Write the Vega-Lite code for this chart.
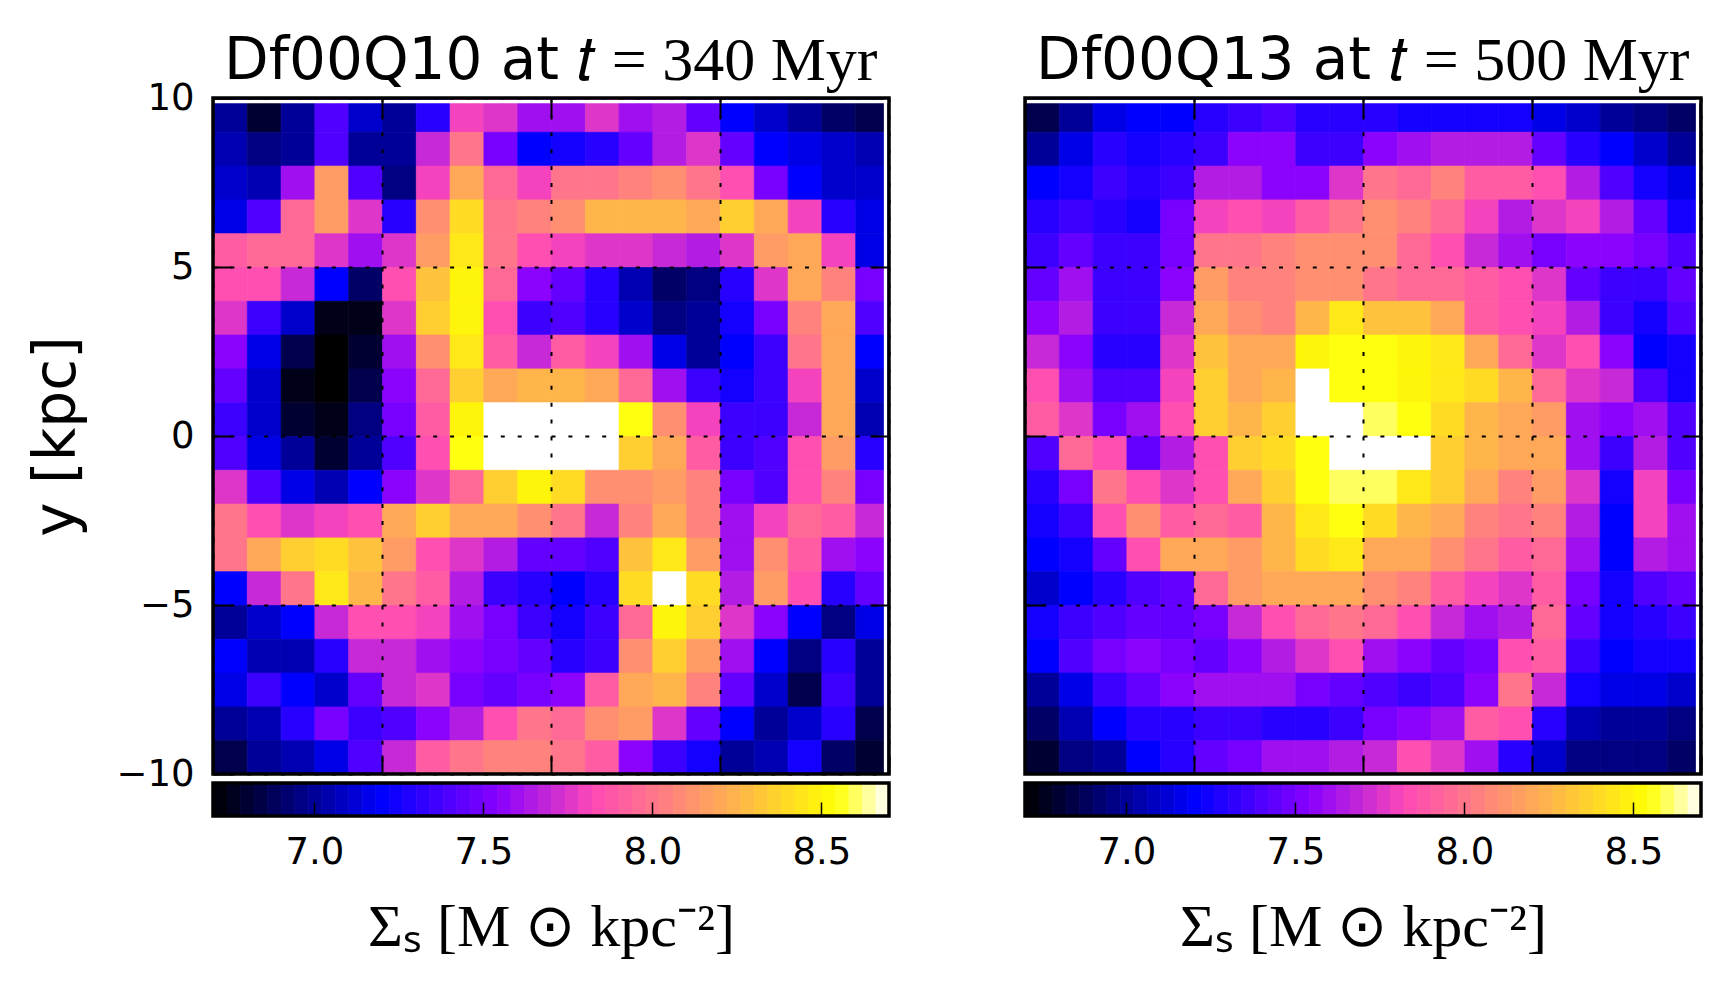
{"$schema":"https://vega.github.io/schema/vega-lite/v6.json","background":"white","padding":{"left":28,"top":29,"right":20,"bottom":10},
"config":{"view":{"stroke":null},"font":"DejaVu Sans","axis":{"grid":false,"title":null,"labels":false,"domain":false,"tickColor":"black","tickWidth":2,"tickSize":-19},"title":{"font":"DejaVu Sans","fontSize":58,"fontWeight":"normal"}},
"datasets":{
"a":[{"x":-10,"y":9,"v":7},{"x":-9,"y":9,"v":6.8},{"x":-8,"y":9,"v":7},{"x":-7,"y":9,"v":7.4},{"x":-6,"y":9,"v":7.1},{"x":-5,"y":9,"v":7},{"x":-4,"y":9,"v":7.3},{"x":-3,"y":9,"v":7.8},{"x":-2,"y":9,"v":7.75},{"x":-1,"y":9,"v":7.6},{"x":0,"y":9,"v":7.6},{"x":1,"y":9,"v":7.75},{"x":2,"y":9,"v":7.6},{"x":3,"y":9,"v":7.65},{"x":4,"y":9,"v":7.45},{"x":5,"y":9,"v":7.2},{"x":6,"y":9,"v":7.1},{"x":7,"y":9,"v":7},{"x":8,"y":9,"v":6.9},{"x":9,"y":9,"v":6.85},
{"x":-10,"y":8,"v":7.05},{"x":-9,"y":8,"v":6.95},{"x":-8,"y":8,"v":7},{"x":-7,"y":8,"v":7.4},{"x":-6,"y":8,"v":7},{"x":-5,"y":8,"v":7},{"x":-4,"y":8,"v":7.7},{"x":-3,"y":8,"v":8},{"x":-2,"y":8,"v":7.5},{"x":-1,"y":8,"v":7.2},{"x":0,"y":8,"v":7.25},{"x":1,"y":8,"v":7.3},{"x":2,"y":8,"v":7.45},{"x":3,"y":8,"v":7.65},{"x":4,"y":8,"v":7.75},{"x":5,"y":8,"v":7.45},{"x":6,"y":8,"v":7.2},{"x":7,"y":8,"v":7.15},{"x":8,"y":8,"v":7.1},{"x":9,"y":8,"v":7.05},
{"x":-10,"y":7,"v":7.1},{"x":-9,"y":7,"v":7.05},{"x":-8,"y":7,"v":7.6},{"x":-7,"y":7,"v":8.15},{"x":-6,"y":7,"v":7.4},{"x":-5,"y":7,"v":6.95},{"x":-4,"y":7,"v":7.8},{"x":-3,"y":7,"v":8.2},{"x":-2,"y":7,"v":7.95},{"x":-1,"y":7,"v":7.8},{"x":0,"y":7,"v":8},{"x":1,"y":7,"v":8},{"x":2,"y":7,"v":8.05},{"x":3,"y":7,"v":8.1},{"x":4,"y":7,"v":8},{"x":5,"y":7,"v":7.85},{"x":6,"y":7,"v":7.5},{"x":7,"y":7,"v":7.2},{"x":8,"y":7,"v":7.1},{"x":9,"y":7,"v":7.1},
{"x":-10,"y":6,"v":7.15},{"x":-9,"y":6,"v":7.4},{"x":-8,"y":6,"v":7.95},{"x":-7,"y":6,"v":8.15},{"x":-6,"y":6,"v":7.75},{"x":-5,"y":6,"v":7.3},{"x":-4,"y":6,"v":8.1},{"x":-3,"y":6,"v":8.4},{"x":-2,"y":6,"v":8},{"x":-1,"y":6,"v":8.05},{"x":0,"y":6,"v":8.1},{"x":1,"y":6,"v":8.25},{"x":2,"y":6,"v":8.25},{"x":3,"y":6,"v":8.25},{"x":4,"y":6,"v":8.2},{"x":5,"y":6,"v":8.35},{"x":6,"y":6,"v":8.2},{"x":7,"y":6,"v":7.8},{"x":8,"y":6,"v":7.3},{"x":9,"y":6,"v":7.15},
{"x":-10,"y":5,"v":7.9},{"x":-9,"y":5,"v":7.95},{"x":-8,"y":5,"v":7.95},{"x":-7,"y":5,"v":7.75},{"x":-6,"y":5,"v":7.6},{"x":-5,"y":5,"v":7.75},{"x":-4,"y":5,"v":8.15},{"x":-3,"y":5,"v":8.45},{"x":-2,"y":5,"v":8},{"x":-1,"y":5,"v":7.85},{"x":0,"y":5,"v":7.8},{"x":1,"y":5,"v":7.75},{"x":2,"y":5,"v":7.75},{"x":3,"y":5,"v":7.7},{"x":4,"y":5,"v":7.65},{"x":5,"y":5,"v":7.75},{"x":6,"y":5,"v":8.15},{"x":7,"y":5,"v":8.2},{"x":8,"y":5,"v":7.8},{"x":9,"y":5,"v":7.15},
{"x":-10,"y":4,"v":7.85},{"x":-9,"y":4,"v":7.85},{"x":-8,"y":4,"v":7.7},{"x":-7,"y":4,"v":7.2},{"x":-6,"y":4,"v":6.9},{"x":-5,"y":4,"v":7.85},{"x":-4,"y":4,"v":8.3},{"x":-3,"y":4,"v":8.5},{"x":-2,"y":4,"v":7.95},{"x":-1,"y":4,"v":7.55},{"x":0,"y":4,"v":7.45},{"x":1,"y":4,"v":7.3},{"x":2,"y":4,"v":7.05},{"x":3,"y":4,"v":6.9},{"x":4,"y":4,"v":6.95},{"x":5,"y":4,"v":7.3},{"x":6,"y":4,"v":7.75},{"x":7,"y":4,"v":8.2},{"x":8,"y":4,"v":8.05},{"x":9,"y":4,"v":7.5},
{"x":-10,"y":3,"v":7.75},{"x":-9,"y":3,"v":7.35},{"x":-8,"y":3,"v":7.1},{"x":-7,"y":3,"v":6.75},{"x":-6,"y":3,"v":6.75},{"x":-5,"y":3,"v":7.75},{"x":-4,"y":3,"v":8.35},{"x":-3,"y":3,"v":8.5},{"x":-2,"y":3,"v":7.85},{"x":-1,"y":3,"v":7.35},{"x":0,"y":3,"v":7.4},{"x":1,"y":3,"v":7.3},{"x":2,"y":3,"v":7.1},{"x":3,"y":3,"v":6.95},{"x":4,"y":3,"v":7},{"x":5,"y":3,"v":7.25},{"x":6,"y":3,"v":7.5},{"x":7,"y":3,"v":8.05},{"x":8,"y":3,"v":8.2},{"x":9,"y":3,"v":7.4},
{"x":-10,"y":2,"v":7.55},{"x":-9,"y":2,"v":7.15},{"x":-8,"y":2,"v":6.85},{"x":-7,"y":2,"v":6.7},{"x":-6,"y":2,"v":6.8},{"x":-5,"y":2,"v":7.6},{"x":-4,"y":2,"v":8.1},{"x":-3,"y":2,"v":8.45},{"x":-2,"y":2,"v":7.9},{"x":-1,"y":2,"v":7.7},{"x":0,"y":2,"v":7.9},{"x":1,"y":2,"v":7.8},{"x":2,"y":2,"v":7.6},{"x":3,"y":2,"v":7.15},{"x":4,"y":2,"v":7},{"x":5,"y":2,"v":7.2},{"x":6,"y":2,"v":7.35},{"x":7,"y":2,"v":8},{"x":8,"y":2,"v":8.2},{"x":9,"y":2,"v":7.2},
{"x":-10,"y":1,"v":7.45},{"x":-9,"y":1,"v":7.1},{"x":-8,"y":1,"v":6.75},{"x":-7,"y":1,"v":6.7},{"x":-6,"y":1,"v":6.85},{"x":-5,"y":1,"v":7.55},{"x":-4,"y":1,"v":7.95},{"x":-3,"y":1,"v":8.35},{"x":-2,"y":1,"v":8.2},{"x":-1,"y":1,"v":8.25},{"x":0,"y":1,"v":8.25},{"x":1,"y":1,"v":8.2},{"x":2,"y":1,"v":7.95},{"x":3,"y":1,"v":7.6},{"x":4,"y":1,"v":7.35},{"x":5,"y":1,"v":7.25},{"x":6,"y":1,"v":7.35},{"x":7,"y":1,"v":7.8},{"x":8,"y":1,"v":8.2},{"x":9,"y":1,"v":7.1},
{"x":-10,"y":0,"v":7.35},{"x":-9,"y":0,"v":7.1},{"x":-8,"y":0,"v":6.8},{"x":-7,"y":0,"v":6.75},{"x":-6,"y":0,"v":6.95},{"x":-5,"y":0,"v":7.5},{"x":-4,"y":0,"v":7.9},{"x":-3,"y":0,"v":8.5},{"x":-2,"y":0,"v":8.7},{"x":-1,"y":0,"v":8.7},{"x":0,"y":0,"v":8.7},{"x":1,"y":0,"v":8.7},{"x":2,"y":0,"v":8.55},{"x":3,"y":0,"v":8.1},{"x":4,"y":0,"v":7.8},{"x":5,"y":0,"v":7.35},{"x":6,"y":0,"v":7.35},{"x":7,"y":0,"v":7.7},{"x":8,"y":0,"v":8.2},{"x":9,"y":0,"v":7.05},
{"x":-10,"y":-1,"v":7.4},{"x":-9,"y":-1,"v":7.15},{"x":-8,"y":-1,"v":7},{"x":-7,"y":-1,"v":6.8},{"x":-6,"y":-1,"v":7},{"x":-5,"y":-1,"v":7.4},{"x":-4,"y":-1,"v":7.85},{"x":-3,"y":-1,"v":8.55},{"x":-2,"y":-1,"v":8.7},{"x":-1,"y":-1,"v":8.7},{"x":0,"y":-1,"v":8.7},{"x":1,"y":-1,"v":8.7},{"x":2,"y":-1,"v":8.35},{"x":3,"y":-1,"v":8.2},{"x":4,"y":-1,"v":7.9},{"x":5,"y":-1,"v":7.35},{"x":6,"y":-1,"v":7.4},{"x":7,"y":-1,"v":7.85},{"x":8,"y":-1,"v":8.15},{"x":9,"y":-1,"v":7.3},
{"x":-10,"y":-2,"v":7.75},{"x":-9,"y":-2,"v":7.4},{"x":-8,"y":-2,"v":7.15},{"x":-7,"y":-2,"v":7.05},{"x":-6,"y":-2,"v":7.2},{"x":-5,"y":-2,"v":7.55},{"x":-4,"y":-2,"v":7.75},{"x":-3,"y":-2,"v":7.95},{"x":-2,"y":-2,"v":8.35},{"x":-1,"y":-2,"v":8.5},{"x":0,"y":-2,"v":8.4},{"x":1,"y":-2,"v":8.1},{"x":2,"y":-2,"v":8.1},{"x":3,"y":-2,"v":8.15},{"x":4,"y":-2,"v":8.05},{"x":5,"y":-2,"v":7.5},{"x":6,"y":-2,"v":7.4},{"x":7,"y":-2,"v":7.85},{"x":8,"y":-2,"v":8.05},{"x":9,"y":-2,"v":7.5},
{"x":-10,"y":-3,"v":8},{"x":-9,"y":-3,"v":7.85},{"x":-8,"y":-3,"v":7.75},{"x":-7,"y":-3,"v":7.8},{"x":-6,"y":-3,"v":7.85},{"x":-5,"y":-3,"v":8.2},{"x":-4,"y":-3,"v":8.35},{"x":-3,"y":-3,"v":8.2},{"x":-2,"y":-3,"v":8.2},{"x":-1,"y":-3,"v":8.1},{"x":0,"y":-3,"v":8},{"x":1,"y":-3,"v":7.7},{"x":2,"y":-3,"v":8.05},{"x":3,"y":-3,"v":8.2},{"x":4,"y":-3,"v":8.05},{"x":5,"y":-3,"v":7.6},{"x":6,"y":-3,"v":7.8},{"x":7,"y":-3,"v":7.95},{"x":8,"y":-3,"v":7.9},{"x":9,"y":-3,"v":7.7},
{"x":-10,"y":-4,"v":8},{"x":-9,"y":-4,"v":8.2},{"x":-8,"y":-4,"v":8.35},{"x":-7,"y":-4,"v":8.4},{"x":-6,"y":-4,"v":8.3},{"x":-5,"y":-4,"v":8.15},{"x":-4,"y":-4,"v":7.85},{"x":-3,"y":-4,"v":7.75},{"x":-2,"y":-4,"v":7.65},{"x":-1,"y":-4,"v":7.45},{"x":0,"y":-4,"v":7.45},{"x":1,"y":-4,"v":7.4},{"x":2,"y":-4,"v":8.3},{"x":3,"y":-4,"v":8.45},{"x":4,"y":-4,"v":8.15},{"x":5,"y":-4,"v":7.6},{"x":6,"y":-4,"v":8.1},{"x":7,"y":-4,"v":7.9},{"x":8,"y":-4,"v":7.6},{"x":9,"y":-4,"v":7.55},
{"x":-10,"y":-5,"v":7.2},{"x":-9,"y":-5,"v":7.7},{"x":-8,"y":-5,"v":8},{"x":-7,"y":-5,"v":8.45},{"x":-6,"y":-5,"v":8.25},{"x":-5,"y":-5,"v":8},{"x":-4,"y":-5,"v":7.9},{"x":-3,"y":-5,"v":7.65},{"x":-2,"y":-5,"v":7.35},{"x":-1,"y":-5,"v":7.3},{"x":0,"y":-5,"v":7.2},{"x":1,"y":-5,"v":7.3},{"x":2,"y":-5,"v":8.4},{"x":3,"y":-5,"v":8.7},{"x":4,"y":-5,"v":8.4},{"x":5,"y":-5,"v":7.65},{"x":6,"y":-5,"v":8.15},{"x":7,"y":-5,"v":7.85},{"x":8,"y":-5,"v":7.3},{"x":9,"y":-5,"v":7.45},
{"x":-10,"y":-6,"v":7},{"x":-9,"y":-6,"v":7.1},{"x":-8,"y":-6,"v":7.2},{"x":-7,"y":-6,"v":7.7},{"x":-6,"y":-6,"v":7.85},{"x":-5,"y":-6,"v":7.85},{"x":-4,"y":-6,"v":7.8},{"x":-3,"y":-6,"v":7.6},{"x":-2,"y":-6,"v":7.5},{"x":-1,"y":-6,"v":7.35},{"x":0,"y":-6,"v":7.25},{"x":1,"y":-6,"v":7.35},{"x":2,"y":-6,"v":7.95},{"x":3,"y":-6,"v":8.5},{"x":4,"y":-6,"v":8.35},{"x":5,"y":-6,"v":7.75},{"x":6,"y":-6,"v":7.55},{"x":7,"y":-6,"v":7.2},{"x":8,"y":-6,"v":6.95},{"x":9,"y":-6,"v":7.15},
{"x":-10,"y":-7,"v":7.2},{"x":-9,"y":-7,"v":7.05},{"x":-8,"y":-7,"v":7.05},{"x":-7,"y":-7,"v":7.3},{"x":-6,"y":-7,"v":7.7},{"x":-5,"y":-7,"v":7.7},{"x":-4,"y":-7,"v":7.6},{"x":-3,"y":-7,"v":7.55},{"x":-2,"y":-7,"v":7.5},{"x":-1,"y":-7,"v":7.45},{"x":0,"y":-7,"v":7.3},{"x":1,"y":-7,"v":7.35},{"x":2,"y":-7,"v":8.1},{"x":3,"y":-7,"v":8.35},{"x":4,"y":-7,"v":8.15},{"x":5,"y":-7,"v":7.6},{"x":6,"y":-7,"v":7.2},{"x":7,"y":-7,"v":6.95},{"x":8,"y":-7,"v":7.3},{"x":9,"y":-7,"v":7},
{"x":-10,"y":-8,"v":7.15},{"x":-9,"y":-8,"v":7.35},{"x":-8,"y":-8,"v":7.2},{"x":-7,"y":-8,"v":7.1},{"x":-6,"y":-8,"v":7.45},{"x":-5,"y":-8,"v":7.7},{"x":-4,"y":-8,"v":7.75},{"x":-3,"y":-8,"v":7.5},{"x":-2,"y":-8,"v":7.45},{"x":-1,"y":-8,"v":7.5},{"x":0,"y":-8,"v":7.55},{"x":1,"y":-8,"v":7.9},{"x":2,"y":-8,"v":8.2},{"x":3,"y":-8,"v":8.25},{"x":4,"y":-8,"v":8.05},{"x":5,"y":-8,"v":7.45},{"x":6,"y":-8,"v":7.1},{"x":7,"y":-8,"v":6.85},{"x":8,"y":-8,"v":7.35},{"x":9,"y":-8,"v":7},
{"x":-10,"y":-9,"v":7},{"x":-9,"y":-9,"v":7.05},{"x":-8,"y":-9,"v":7.3},{"x":-7,"y":-9,"v":7.5},{"x":-6,"y":-9,"v":7.35},{"x":-5,"y":-9,"v":7.4},{"x":-4,"y":-9,"v":7.55},{"x":-3,"y":-9,"v":7.65},{"x":-2,"y":-9,"v":7.85},{"x":-1,"y":-9,"v":8},{"x":0,"y":-9,"v":7.95},{"x":1,"y":-9,"v":8.1},{"x":2,"y":-9,"v":8.15},{"x":3,"y":-9,"v":7.75},{"x":4,"y":-9,"v":7.45},{"x":5,"y":-9,"v":7.2},{"x":6,"y":-9,"v":7},{"x":7,"y":-9,"v":7.1},{"x":8,"y":-9,"v":7.3},{"x":9,"y":-9,"v":6.85},
{"x":-10,"y":-10,"v":6.85},{"x":-9,"y":-10,"v":7},{"x":-8,"y":-10,"v":7.05},{"x":-7,"y":-10,"v":7.15},{"x":-6,"y":-10,"v":7.4},{"x":-5,"y":-10,"v":7.7},{"x":-4,"y":-10,"v":7.9},{"x":-3,"y":-10,"v":8},{"x":-2,"y":-10,"v":8.05},{"x":-1,"y":-10,"v":8.05},{"x":0,"y":-10,"v":8},{"x":1,"y":-10,"v":7.9},{"x":2,"y":-10,"v":7.55},{"x":3,"y":-10,"v":7.35},{"x":4,"y":-10,"v":7.25},{"x":5,"y":-10,"v":7},{"x":6,"y":-10,"v":7.05},{"x":7,"y":-10,"v":7.25},{"x":8,"y":-10,"v":6.9},{"x":9,"y":-10,"v":6.8}],
"b":[{"x":-10,"y":9,"v":6.85},{"x":-9,"y":9,"v":7},{"x":-8,"y":9,"v":7.15},{"x":-7,"y":9,"v":7.2},{"x":-6,"y":9,"v":7.2},{"x":-5,"y":9,"v":7.3},{"x":-4,"y":9,"v":7.35},{"x":-3,"y":9,"v":7.4},{"x":-2,"y":9,"v":7.3},{"x":-1,"y":9,"v":7.3},{"x":0,"y":9,"v":7.3},{"x":1,"y":9,"v":7.25},{"x":2,"y":9,"v":7.25},{"x":3,"y":9,"v":7.25},{"x":4,"y":9,"v":7.25},{"x":5,"y":9,"v":7.15},{"x":6,"y":9,"v":7.1},{"x":7,"y":9,"v":7},{"x":8,"y":9,"v":6.95},{"x":9,"y":9,"v":6.9},
{"x":-10,"y":8,"v":7},{"x":-9,"y":8,"v":7.15},{"x":-8,"y":8,"v":7.3},{"x":-7,"y":8,"v":7.25},{"x":-6,"y":8,"v":7.3},{"x":-5,"y":8,"v":7.35},{"x":-4,"y":8,"v":7.55},{"x":-3,"y":8,"v":7.55},{"x":-2,"y":8,"v":7.35},{"x":-1,"y":8,"v":7.35},{"x":0,"y":8,"v":7.55},{"x":1,"y":8,"v":7.6},{"x":2,"y":8,"v":7.65},{"x":3,"y":8,"v":7.65},{"x":4,"y":8,"v":7.65},{"x":5,"y":8,"v":7.45},{"x":6,"y":8,"v":7.3},{"x":7,"y":8,"v":7.2},{"x":8,"y":8,"v":7.1},{"x":9,"y":8,"v":7},
{"x":-10,"y":7,"v":7.2},{"x":-9,"y":7,"v":7.25},{"x":-8,"y":7,"v":7.35},{"x":-7,"y":7,"v":7.3},{"x":-6,"y":7,"v":7.35},{"x":-5,"y":7,"v":7.65},{"x":-4,"y":7,"v":7.65},{"x":-3,"y":7,"v":7.55},{"x":-2,"y":7,"v":7.55},{"x":-1,"y":7,"v":7.75},{"x":0,"y":7,"v":8},{"x":1,"y":7,"v":7.95},{"x":2,"y":7,"v":8.05},{"x":3,"y":7,"v":7.9},{"x":4,"y":7,"v":7.9},{"x":5,"y":7,"v":7.85},{"x":6,"y":7,"v":7.65},{"x":7,"y":7,"v":7.4},{"x":8,"y":7,"v":7.25},{"x":9,"y":7,"v":7.15},
{"x":-10,"y":6,"v":7.3},{"x":-9,"y":6,"v":7.35},{"x":-8,"y":6,"v":7.3},{"x":-7,"y":6,"v":7.25},{"x":-6,"y":6,"v":7.5},{"x":-5,"y":6,"v":7.8},{"x":-4,"y":6,"v":7.85},{"x":-3,"y":6,"v":7.8},{"x":-2,"y":6,"v":7.9},{"x":-1,"y":6,"v":8},{"x":0,"y":6,"v":8.1},{"x":1,"y":6,"v":8.05},{"x":2,"y":6,"v":7.95},{"x":3,"y":6,"v":7.8},{"x":4,"y":6,"v":7.65},{"x":5,"y":6,"v":7.75},{"x":6,"y":6,"v":7.8},{"x":7,"y":6,"v":7.65},{"x":8,"y":6,"v":7.45},{"x":9,"y":6,"v":7.25},
{"x":-10,"y":5,"v":7.35},{"x":-9,"y":5,"v":7.45},{"x":-8,"y":5,"v":7.35},{"x":-7,"y":5,"v":7.35},{"x":-6,"y":5,"v":7.5},{"x":-5,"y":5,"v":8},{"x":-4,"y":5,"v":8},{"x":-3,"y":5,"v":8.05},{"x":-2,"y":5,"v":8.1},{"x":-1,"y":5,"v":8.1},{"x":0,"y":5,"v":8.1},{"x":1,"y":5,"v":7.95},{"x":2,"y":5,"v":7.85},{"x":3,"y":5,"v":7.7},{"x":4,"y":5,"v":7.6},{"x":5,"y":5,"v":7.5},{"x":6,"y":5,"v":7.55},{"x":7,"y":5,"v":7.55},{"x":8,"y":5,"v":7.5},{"x":9,"y":5,"v":7.4},
{"x":-10,"y":4,"v":7.45},{"x":-9,"y":4,"v":7.6},{"x":-8,"y":4,"v":7.35},{"x":-7,"y":4,"v":7.35},{"x":-6,"y":4,"v":7.55},{"x":-5,"y":4,"v":8.15},{"x":-4,"y":4,"v":8.05},{"x":-3,"y":4,"v":8.05},{"x":-2,"y":4,"v":8.1},{"x":-1,"y":4,"v":8.1},{"x":0,"y":4,"v":8},{"x":1,"y":4,"v":7.95},{"x":2,"y":4,"v":7.95},{"x":3,"y":4,"v":7.9},{"x":4,"y":4,"v":7.85},{"x":5,"y":4,"v":7.75},{"x":6,"y":4,"v":7.45},{"x":7,"y":4,"v":7.35},{"x":8,"y":4,"v":7.35},{"x":9,"y":4,"v":7.45},
{"x":-10,"y":3,"v":7.55},{"x":-9,"y":3,"v":7.65},{"x":-8,"y":3,"v":7.35},{"x":-7,"y":3,"v":7.35},{"x":-6,"y":3,"v":7.7},{"x":-5,"y":3,"v":8.2},{"x":-4,"y":3,"v":8.1},{"x":-3,"y":3,"v":8.05},{"x":-2,"y":3,"v":8.25},{"x":-1,"y":3,"v":8.45},{"x":0,"y":3,"v":8.3},{"x":1,"y":3,"v":8.3},{"x":2,"y":3,"v":8.2},{"x":3,"y":3,"v":7.9},{"x":4,"y":3,"v":7.85},{"x":5,"y":3,"v":7.8},{"x":6,"y":3,"v":7.65},{"x":7,"y":3,"v":7.35},{"x":8,"y":3,"v":7.25},{"x":9,"y":3,"v":7.4},
{"x":-10,"y":2,"v":7.7},{"x":-9,"y":2,"v":7.55},{"x":-8,"y":2,"v":7.3},{"x":-7,"y":2,"v":7.3},{"x":-6,"y":2,"v":7.75},{"x":-5,"y":2,"v":8.3},{"x":-4,"y":2,"v":8.2},{"x":-3,"y":2,"v":8.2},{"x":-2,"y":2,"v":8.5},{"x":-1,"y":2,"v":8.55},{"x":0,"y":2,"v":8.55},{"x":1,"y":2,"v":8.5},{"x":2,"y":2,"v":8.45},{"x":3,"y":2,"v":8.2},{"x":4,"y":2,"v":7.95},{"x":5,"y":2,"v":7.75},{"x":6,"y":2,"v":7.85},{"x":7,"y":2,"v":7.55},{"x":8,"y":2,"v":7.2},{"x":9,"y":2,"v":7.25},
{"x":-10,"y":1,"v":7.85},{"x":-9,"y":1,"v":7.6},{"x":-8,"y":1,"v":7.4},{"x":-7,"y":1,"v":7.4},{"x":-6,"y":1,"v":7.8},{"x":-5,"y":1,"v":8.35},{"x":-4,"y":1,"v":8.2},{"x":-3,"y":1,"v":8.25},{"x":-2,"y":1,"v":8.7},{"x":-1,"y":1,"v":8.55},{"x":0,"y":1,"v":8.55},{"x":1,"y":1,"v":8.5},{"x":2,"y":1,"v":8.45},{"x":3,"y":1,"v":8.4},{"x":4,"y":1,"v":8.25},{"x":5,"y":1,"v":7.95},{"x":6,"y":1,"v":7.75},{"x":7,"y":1,"v":7.7},{"x":8,"y":1,"v":7.4},{"x":9,"y":1,"v":7.25},
{"x":-10,"y":0,"v":7.9},{"x":-9,"y":0,"v":7.75},{"x":-8,"y":0,"v":7.5},{"x":-7,"y":0,"v":7.6},{"x":-6,"y":0,"v":7.85},{"x":-5,"y":0,"v":8.35},{"x":-4,"y":0,"v":8.25},{"x":-3,"y":0,"v":8.35},{"x":-2,"y":0,"v":8.7},{"x":-1,"y":0,"v":8.7},{"x":0,"y":0,"v":8.6},{"x":1,"y":0,"v":8.55},{"x":2,"y":0,"v":8.4},{"x":3,"y":0,"v":8.25},{"x":4,"y":0,"v":8.2},{"x":5,"y":0,"v":8.15},{"x":6,"y":0,"v":7.6},{"x":7,"y":0,"v":7.55},{"x":8,"y":0,"v":7.6},{"x":9,"y":0,"v":7.4},
{"x":-10,"y":-1,"v":7.4},{"x":-9,"y":-1,"v":7.95},{"x":-8,"y":-1,"v":7.85},{"x":-7,"y":-1,"v":7.45},{"x":-6,"y":-1,"v":7.65},{"x":-5,"y":-1,"v":7.85},{"x":-4,"y":-1,"v":8.35},{"x":-3,"y":-1,"v":8.4},{"x":-2,"y":-1,"v":8.55},{"x":-1,"y":-1,"v":8.7},{"x":0,"y":-1,"v":8.7},{"x":1,"y":-1,"v":8.7},{"x":2,"y":-1,"v":8.35},{"x":3,"y":-1,"v":8.25},{"x":4,"y":-1,"v":8.2},{"x":5,"y":-1,"v":8.2},{"x":6,"y":-1,"v":7.6},{"x":7,"y":-1,"v":7.35},{"x":8,"y":-1,"v":7.65},{"x":9,"y":-1,"v":7.4},
{"x":-10,"y":-2,"v":7.3},{"x":-9,"y":-2,"v":7.5},{"x":-8,"y":-2,"v":8},{"x":-7,"y":-2,"v":7.85},{"x":-6,"y":-2,"v":7.75},{"x":-5,"y":-2,"v":7.85},{"x":-4,"y":-2,"v":8.2},{"x":-3,"y":-2,"v":8.35},{"x":-2,"y":-2,"v":8.55},{"x":-1,"y":-2,"v":8.6},{"x":0,"y":-2,"v":8.6},{"x":1,"y":-2,"v":8.45},{"x":2,"y":-2,"v":8.35},{"x":3,"y":-2,"v":8.2},{"x":4,"y":-2,"v":8.05},{"x":5,"y":-2,"v":8.15},{"x":6,"y":-2,"v":7.75},{"x":7,"y":-2,"v":7.25},{"x":8,"y":-2,"v":7.8},{"x":9,"y":-2,"v":7.5},
{"x":-10,"y":-3,"v":7.25},{"x":-9,"y":-3,"v":7.35},{"x":-8,"y":-3,"v":7.85},{"x":-7,"y":-3,"v":8.1},{"x":-6,"y":-3,"v":7.9},{"x":-5,"y":-3,"v":7.95},{"x":-4,"y":-3,"v":7.9},{"x":-3,"y":-3,"v":8.25},{"x":-2,"y":-3,"v":8.45},{"x":-1,"y":-3,"v":8.55},{"x":0,"y":-3,"v":8.4},{"x":1,"y":-3,"v":8.25},{"x":2,"y":-3,"v":8.2},{"x":3,"y":-3,"v":8.05},{"x":4,"y":-3,"v":8},{"x":5,"y":-3,"v":8.05},{"x":6,"y":-3,"v":7.65},{"x":7,"y":-3,"v":7.2},{"x":8,"y":-3,"v":7.8},{"x":9,"y":-3,"v":7.6},
{"x":-10,"y":-4,"v":7.2},{"x":-9,"y":-4,"v":7.25},{"x":-8,"y":-4,"v":7.45},{"x":-7,"y":-4,"v":7.85},{"x":-6,"y":-4,"v":8.2},{"x":-5,"y":-4,"v":8.2},{"x":-4,"y":-4,"v":8.15},{"x":-3,"y":-4,"v":8.25},{"x":-2,"y":-4,"v":8.4},{"x":-1,"y":-4,"v":8.45},{"x":0,"y":-4,"v":8.2},{"x":1,"y":-4,"v":8.2},{"x":2,"y":-4,"v":8.1},{"x":3,"y":-4,"v":8},{"x":4,"y":-4,"v":7.9},{"x":5,"y":-4,"v":7.95},{"x":6,"y":-4,"v":7.6},{"x":7,"y":-4,"v":7.2},{"x":8,"y":-4,"v":7.65},{"x":9,"y":-4,"v":7.6},
{"x":-10,"y":-5,"v":7.1},{"x":-9,"y":-5,"v":7.2},{"x":-8,"y":-5,"v":7.3},{"x":-7,"y":-5,"v":7.4},{"x":-6,"y":-5,"v":7.45},{"x":-5,"y":-5,"v":7.95},{"x":-4,"y":-5,"v":8.15},{"x":-3,"y":-5,"v":8.2},{"x":-2,"y":-5,"v":8.2},{"x":-1,"y":-5,"v":8.2},{"x":0,"y":-5,"v":8.1},{"x":1,"y":-5,"v":8.05},{"x":2,"y":-5,"v":7.9},{"x":3,"y":-5,"v":7.8},{"x":4,"y":-5,"v":7.75},{"x":5,"y":-5,"v":7.9},{"x":6,"y":-5,"v":7.5},{"x":7,"y":-5,"v":7.25},{"x":8,"y":-5,"v":7.4},{"x":9,"y":-5,"v":7.45},
{"x":-10,"y":-6,"v":7.25},{"x":-9,"y":-6,"v":7.35},{"x":-8,"y":-6,"v":7.4},{"x":-7,"y":-6,"v":7.45},{"x":-6,"y":-6,"v":7.45},{"x":-5,"y":-6,"v":7.5},{"x":-4,"y":-6,"v":7.7},{"x":-3,"y":-6,"v":7.85},{"x":-2,"y":-6,"v":7.95},{"x":-1,"y":-6,"v":8},{"x":0,"y":-6,"v":7.95},{"x":1,"y":-6,"v":7.85},{"x":2,"y":-6,"v":7.7},{"x":3,"y":-6,"v":7.6},{"x":4,"y":-6,"v":7.65},{"x":5,"y":-6,"v":7.95},{"x":6,"y":-6,"v":7.45},{"x":7,"y":-6,"v":7.25},{"x":8,"y":-6,"v":7.3},{"x":9,"y":-6,"v":7.35},
{"x":-10,"y":-7,"v":7.2},{"x":-9,"y":-7,"v":7.4},{"x":-8,"y":-7,"v":7.5},{"x":-7,"y":-7,"v":7.55},{"x":-6,"y":-7,"v":7.5},{"x":-5,"y":-7,"v":7.45},{"x":-4,"y":-7,"v":7.55},{"x":-3,"y":-7,"v":7.65},{"x":-2,"y":-7,"v":7.75},{"x":-1,"y":-7,"v":7.85},{"x":0,"y":-7,"v":7.6},{"x":1,"y":-7,"v":7.55},{"x":2,"y":-7,"v":7.45},{"x":3,"y":-7,"v":7.5},{"x":4,"y":-7,"v":7.85},{"x":5,"y":-7,"v":7.9},{"x":6,"y":-7,"v":7.35},{"x":7,"y":-7,"v":7.2},{"x":8,"y":-7,"v":7.25},{"x":9,"y":-7,"v":7.25},
{"x":-10,"y":-8,"v":7},{"x":-9,"y":-8,"v":7.15},{"x":-8,"y":-8,"v":7.35},{"x":-7,"y":-8,"v":7.45},{"x":-6,"y":-8,"v":7.55},{"x":-5,"y":-8,"v":7.6},{"x":-4,"y":-8,"v":7.6},{"x":-3,"y":-8,"v":7.6},{"x":-2,"y":-8,"v":7.5},{"x":-1,"y":-8,"v":7.45},{"x":0,"y":-8,"v":7.4},{"x":1,"y":-8,"v":7.35},{"x":2,"y":-8,"v":7.4},{"x":3,"y":-8,"v":7.55},{"x":4,"y":-8,"v":8},{"x":5,"y":-8,"v":7.7},{"x":6,"y":-8,"v":7.25},{"x":7,"y":-8,"v":7.15},{"x":8,"y":-8,"v":7.15},{"x":9,"y":-8,"v":7.1},
{"x":-10,"y":-9,"v":6.9},{"x":-9,"y":-9,"v":7.05},{"x":-8,"y":-9,"v":7.2},{"x":-7,"y":-9,"v":7.3},{"x":-6,"y":-9,"v":7.3},{"x":-5,"y":-9,"v":7.35},{"x":-4,"y":-9,"v":7.35},{"x":-3,"y":-9,"v":7.3},{"x":-2,"y":-9,"v":7.3},{"x":-1,"y":-9,"v":7.35},{"x":0,"y":-9,"v":7.5},{"x":1,"y":-9,"v":7.55},{"x":2,"y":-9,"v":7.6},{"x":3,"y":-9,"v":7.9},{"x":4,"y":-9,"v":7.85},{"x":5,"y":-9,"v":7.3},{"x":6,"y":-9,"v":7.05},{"x":7,"y":-9,"v":7},{"x":8,"y":-9,"v":7},{"x":9,"y":-9,"v":6.95},
{"x":-10,"y":-10,"v":6.8},{"x":-9,"y":-10,"v":6.95},{"x":-8,"y":-10,"v":7},{"x":-7,"y":-10,"v":7.2},{"x":-6,"y":-10,"v":7.3},{"x":-5,"y":-10,"v":7.45},{"x":-4,"y":-10,"v":7.5},{"x":-3,"y":-10,"v":7.6},{"x":-2,"y":-10,"v":7.6},{"x":-1,"y":-10,"v":7.65},{"x":0,"y":-10,"v":7.7},{"x":1,"y":-10,"v":7.85},{"x":2,"y":-10,"v":7.75},{"x":3,"y":-10,"v":7.6},{"x":4,"y":-10,"v":7.3},{"x":5,"y":-10,"v":7.1},{"x":6,"y":-10,"v":6.95},{"x":7,"y":-10,"v":6.95},{"x":8,"y":-10,"v":6.95},{"x":9,"y":-10,"v":6.9}],
"c":[{"v":6.72},{"v":6.76},{"v":6.8},{"v":6.84},{"v":6.88},{"v":6.92},{"v":6.96},{"v":7},{"v":7.04},{"v":7.08},{"v":7.12},{"v":7.16},{"v":7.2},{"v":7.24},{"v":7.28},{"v":7.32},{"v":7.36},{"v":7.4},{"v":7.44},{"v":7.48},{"v":7.52},{"v":7.56},{"v":7.6},{"v":7.64},{"v":7.68},{"v":7.72},{"v":7.76},{"v":7.8},{"v":7.84},{"v":7.88},{"v":7.92},{"v":7.96},{"v":8},{"v":8.04},{"v":8.08},{"v":8.12},{"v":8.16},{"v":8.2},{"v":8.24},{"v":8.28},{"v":8.32},{"v":8.36},{"v":8.4},{"v":8.44},{"v":8.48},{"v":8.52},{"v":8.56},{"v":8.6},{"v":8.64},{"v":8.68}],
"one":[{"k":1}]},
"columns":2,"spacing":{"row":9,"column":136},"bounds":"flush","resolve":{"scale":{"color":"independent","stroke":"independent"}},
"concat":[
{"width":676,"height":676,"title":{"text":"Df00Q10 at","anchor":"start","frame":"group","offset":-62,"dx":11},
"layer":[
{"data":{"name":"a"},"mark":{"type":"rect","strokeWidth":0.7},"encoding":{
"x":{"field":"x","type":"quantitative","bin":{"step":1,"extent":[-10,10],"nice":false},"scale":{"domain":[-10,10],"nice":false},"axis":{"values":[-10,-5,0,5,10],"zindex":1,"grid":true,"gridColor":"black","gridWidth":2,"gridDash":[4,12.9]}},
"y":{"field":"y","type":"quantitative","bin":{"step":1,"extent":[-10,10],"nice":false},"scale":{"domain":[-10,10],"nice":false},"axis":{"values":[-10,-5,0,5,10],"zindex":1,"grid":true,"gridColor":"black","gridWidth":2,"gridDash":[4,12.9],"labels":true,"labelFontSize":37,"labelPadding":38,"labelColor":"black","title":"y [kpc]","titleFontSize":58,"titleFontWeight":"normal","titleColor":"black","titlePadding":29}},
"color":{"field":"v","type":"quantitative","legend":null,"scale":{"domain":[6.7,7.2,7.54,7.7,7.825,8.2,8.54,8.7],"range":["#000000","#0000ff","#8700ff","#c729d6","#ff49b6","#ffa857","#ffff00","#ffffff"],"clamp":true,"interpolate":"rgb"}},
"stroke":{"field":"v","type":"quantitative","legend":null,"scale":{"domain":[6.7,7.2,7.54,7.7,7.825,8.2,8.54,8.7],"range":["#000000","#0000ff","#8700ff","#c729d6","#ff49b6","#ffa857","#ffff00","#ffffff"],"clamp":true,"interpolate":"rgb"}}}},
{"data":{"name":"one"},"mark":{"type":"rule","color":"white","strokeWidth":3.5},"encoding":{"x":{"datum":9.9,"type":"quantitative","scale":{"domain":[-10,10],"nice":false},"axis":{"orient":"top","values":[-5,0,5],"zindex":1,"title":"𝑡 = 340 Myr","titleFont":"Liberation Serif","titleFontSize":62,"titleFontWeight":"normal","titleColor":"black","titleAlign":"right","titleX":664,"titlePadding":5}}}},
{"data":{"name":"one"},"mark":{"type":"rule","color":"white","strokeWidth":3.5},"encoding":{"y":{"datum":9.9,"type":"quantitative","scale":{"domain":[-10,10],"nice":false},"axis":{"orient":"right","values":[-5,0,5],"zindex":1}}}},
{"data":{"name":"one"},"mark":{"type":"rect","fill":null,"stroke":"black","strokeWidth":3.5},"encoding":{}}],
"resolve":{"axis":{"x":"independent","y":"independent"}}},
{"width":676,"height":676,"title":{"text":"Df00Q13 at","anchor":"start","frame":"group","offset":-62,"dx":11},
"layer":[
{"data":{"name":"b"},"mark":{"type":"rect","strokeWidth":0.7},"encoding":{
"x":{"field":"x","type":"quantitative","bin":{"step":1,"extent":[-10,10],"nice":false},"scale":{"domain":[-10,10],"nice":false},"axis":{"values":[-10,-5,0,5,10],"zindex":1,"grid":true,"gridColor":"black","gridWidth":2,"gridDash":[4,12.9]}},
"y":{"field":"y","type":"quantitative","bin":{"step":1,"extent":[-10,10],"nice":false},"scale":{"domain":[-10,10],"nice":false},"axis":{"values":[-5,0,5],"zindex":1,"grid":true,"gridColor":"black","gridWidth":2,"gridDash":[4,12.9]}},
"color":{"field":"v","type":"quantitative","legend":null,"scale":{"domain":[6.7,7.2,7.54,7.7,7.825,8.2,8.54,8.7],"range":["#000000","#0000ff","#8700ff","#c729d6","#ff49b6","#ffa857","#ffff00","#ffffff"],"clamp":true,"interpolate":"rgb"}},
"stroke":{"field":"v","type":"quantitative","legend":null,"scale":{"domain":[6.7,7.2,7.54,7.7,7.825,8.2,8.54,8.7],"range":["#000000","#0000ff","#8700ff","#c729d6","#ff49b6","#ffa857","#ffff00","#ffffff"],"clamp":true,"interpolate":"rgb"}}}},
{"data":{"name":"one"},"mark":{"type":"rule","color":"white","strokeWidth":3.5},"encoding":{"x":{"datum":9.9,"type":"quantitative","scale":{"domain":[-10,10],"nice":false},"axis":{"orient":"top","values":[-5,0,5],"zindex":1,"title":"𝑡 = 500 Myr","titleFont":"Liberation Serif","titleFontSize":62,"titleFontWeight":"normal","titleColor":"black","titleAlign":"right","titleX":664,"titlePadding":5}}}},
{"data":{"name":"one"},"mark":{"type":"rule","color":"white","strokeWidth":3.5},"encoding":{"y":{"datum":9.9,"type":"quantitative","scale":{"domain":[-10,10],"nice":false},"axis":{"orient":"right","values":[-5,0,5],"zindex":1}}}},
{"data":{"name":"one"},"mark":{"type":"rect","fill":null,"stroke":"black","strokeWidth":3.5},"encoding":{}}],
"resolve":{"axis":{"x":"independent","y":"independent"}}},
{"width":676,"height":33,"layer":[
{"data":{"name":"c"},"mark":{"type":"rect","strokeWidth":0.7},"encoding":{
"x":{"field":"v","type":"quantitative","bin":{"step":0.04,"extent":[6.7,8.7],"nice":false},"scale":{"domain":[6.7,8.7],"nice":false},"axis":{"values":[7,7.5,8,8.5],"format":".1f","zindex":1,"labels":true,"labelFontSize":37,"labelColor":"black","labelPadding":32,"tickSize":-14,"tickWidth":1.5,"title":"Σₛ [M ⊙ kpc⁻²]","titleFont":"Liberation Serif","titleFontSize":60,"titleFontWeight":"normal","titleColor":"black","titlePadding":28}},
"color":{"field":"v","type":"quantitative","legend":null,"scale":{"domain":[6.7,7.2,7.54,7.7,7.825,8.2,8.54,8.7],"range":["#000000","#0000ff","#8700ff","#c729d6","#ff49b6","#ffa857","#ffff00","#ffffff"],"clamp":true,"interpolate":"rgb"}},
"stroke":{"field":"v","type":"quantitative","legend":null,"scale":{"domain":[6.7,7.2,7.54,7.7,7.825,8.2,8.54,8.7],"range":["#000000","#0000ff","#8700ff","#c729d6","#ff49b6","#ffa857","#ffff00","#ffffff"],"clamp":true,"interpolate":"rgb"}}}},
{"data":{"name":"one"},"mark":{"type":"rect","fill":null,"stroke":"black","strokeWidth":3.5},"encoding":{}}]},
{"width":676,"height":33,"layer":[
{"data":{"name":"c"},"mark":{"type":"rect","strokeWidth":0.7},"encoding":{
"x":{"field":"v","type":"quantitative","bin":{"step":0.04,"extent":[6.7,8.7],"nice":false},"scale":{"domain":[6.7,8.7],"nice":false},"axis":{"values":[7,7.5,8,8.5],"format":".1f","zindex":1,"labels":true,"labelFontSize":37,"labelColor":"black","labelPadding":32,"tickSize":-14,"tickWidth":1.5,"title":"Σₛ [M ⊙ kpc⁻²]","titleFont":"Liberation Serif","titleFontSize":60,"titleFontWeight":"normal","titleColor":"black","titlePadding":28}},
"color":{"field":"v","type":"quantitative","legend":null,"scale":{"domain":[6.7,7.2,7.54,7.7,7.825,8.2,8.54,8.7],"range":["#000000","#0000ff","#8700ff","#c729d6","#ff49b6","#ffa857","#ffff00","#ffffff"],"clamp":true,"interpolate":"rgb"}},
"stroke":{"field":"v","type":"quantitative","legend":null,"scale":{"domain":[6.7,7.2,7.54,7.7,7.825,8.2,8.54,8.7],"range":["#000000","#0000ff","#8700ff","#c729d6","#ff49b6","#ffa857","#ffff00","#ffffff"],"clamp":true,"interpolate":"rgb"}}}},
{"data":{"name":"one"},"mark":{"type":"rect","fill":null,"stroke":"black","strokeWidth":3.5},"encoding":{}}]}
]}
